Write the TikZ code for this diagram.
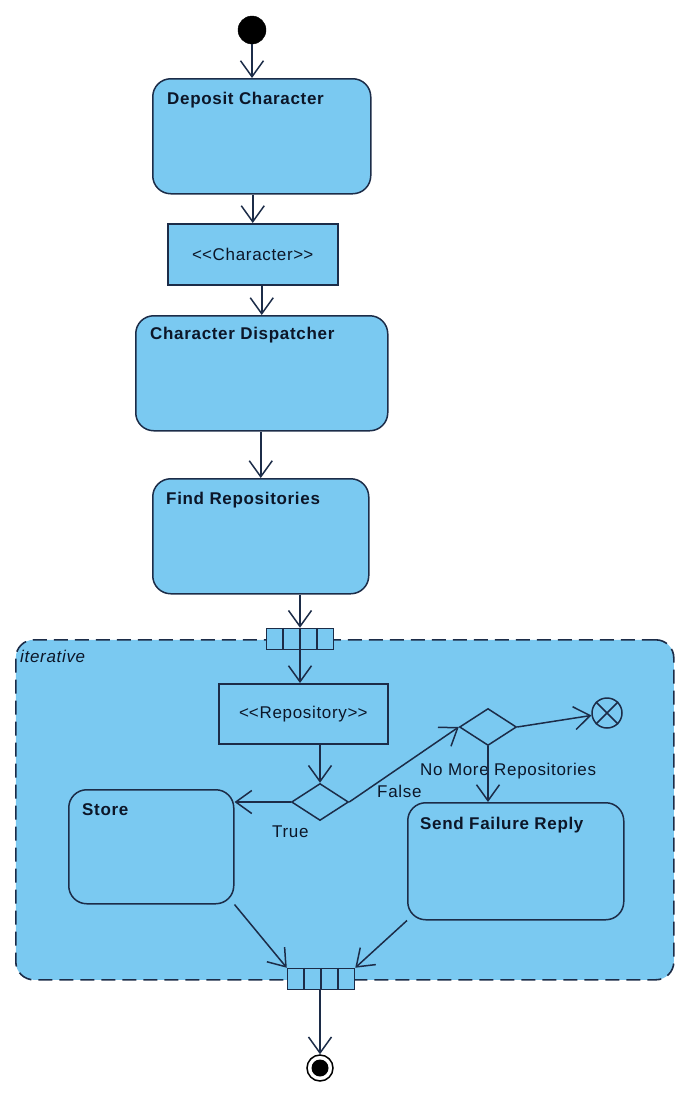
\documentclass[tikz,border=0pt]{standalone}
\usepackage{fontspec}
\setmainfont{Liberation Sans}[LetterSpace=4]
\usetikzlibrary{arrows.meta,shapes.geometric,calc}
\definecolor{fillblue}{RGB}{122,201,241}
\definecolor{edgecol}{RGB}{28,44,72}
\definecolor{ink}{RGB}{12,22,40}
\newcommand\VPopen{<\kern0pt<}
\newcommand\VPclose{>\kern0pt>}
\begin{document}
\begin{tikzpicture}[x=1pt,y=-1pt,
  every node/.style={font=\fontsize{17}{20}\selectfont, text=ink},
  action/.style={draw=edgecol, fill=fillblue, line width=1.5pt, rounded corners=18pt,
    inner sep=0pt, anchor=north west},
  objbox/.style={draw=edgecol, fill=fillblue, line width=1.5pt, inner sep=0pt, anchor=north west},
  region/.style={draw=edgecol, fill=fillblue, line width=1.6pt, rounded corners=18pt,
    dash pattern=on 14pt off 7pt, inner sep=0pt, anchor=north west},
  expnode/.style={draw=edgecol, fill=fillblue, line width=1.5pt, inner sep=0pt,
    minimum width=67pt, minimum height=21pt},
  decision/.style={diamond, draw=edgecol, fill=fillblue, line width=1.5pt, inner sep=0pt,
    minimum width=57pt, minimum height=37pt},
  atitle/.style={anchor=base west, inner sep=0pt, font=\fontsize{17}{20}\selectfont\bfseries},
  flabel/.style={anchor=base west, inner sep=0pt},
  flow/.style={draw=edgecol, line width=1.5pt, -{Straight Barb[length=16pt,width=23pt,line width=1.5pt]}},
]
\useasboundingbox (0,0) rectangle (677,1095);

% initial node
\node[circle, fill=black, draw=black, minimum size=28pt, inner sep=0pt] (init) at (252,30) {};

% actions
\node[action, minimum width=218pt, minimum height=115pt] (dep) at (152,78) {};
\node[atitle] (depT) at (167,104) {Deposit Character};

\node[objbox, minimum width=170pt, minimum height=61pt] (charobj) at (167,223) {\VPopen Character\VPclose};

\node[action, minimum width=252pt, minimum height=115pt] (disp) at (135,315) {};
\node[atitle] (dispT) at (150,339) {Character Dispatcher};

\node[action, minimum width=216pt, minimum height=115pt] (find) at (152,478) {};
\node[atitle] (findT) at (166,504) {Find Repositories};

% expansion region
\node[region, minimum width=658pt, minimum height=340pt] (reg) at (15,639) {};
\node[flabel, font=\fontsize{17}{20}\selectfont\itshape] (iterT) at (20,662) {iterative};

\node[expnode] (exp1) at (300,639) {};
\foreach \i in {1,2,3}
  \draw[edgecol, line width=1.5pt] ($(exp1.north west)!\i/4!(exp1.north east)$) -- ($(exp1.south west)!\i/4!(exp1.south east)$);

\node[objbox, minimum width=169pt, minimum height=60pt] (repo) at (218,683) {\VPopen Repository\VPclose};

\node[decision] (d1) at (320,802) {};
\node[decision] (d2) at (488,727) {};

\node[circle, draw=edgecol, fill=fillblue, line width=1.5pt, minimum size=30pt, inner sep=0pt] (ff) at (607,713) {};
\draw[edgecol, line width=1.5pt] (ff.north west) -- (ff.south east) (ff.north east) -- (ff.south west);

\node[action, minimum width=165pt, minimum height=114pt] (store) at (68,789) {};
\node[atitle] (storeT) at (82,815) {Store};

\node[action, minimum width=216pt, minimum height=117pt] (sfr) at (407,802) {};
\node[atitle] (sfrT) at (420,829) {Send Failure Reply};

\node[expnode] (exp2) at (321,979) {};
\foreach \i in {1,2,3}
  \draw[edgecol, line width=1.5pt] ($(exp2.north west)!\i/4!(exp2.north east)$) -- ($(exp2.south west)!\i/4!(exp2.south east)$);

% final node
\node[circle, draw=black, fill=white, line width=1.5pt, minimum size=26pt, inner sep=0pt] (final) at (320,1068) {};
\fill[black] (final.center) circle (8.5pt);

% labels
\node[flabel] (trueT) at (272,837) {True};
\node[flabel] (falseT) at (377,797) {False};
\node[flabel] (nomoreT) at (420,775) {No More Repositories};

% connectors
\draw[flow] (init.south) -- (init.south |- dep.north);
\draw[flow] (dep.south -| charobj.north) -- (charobj.north);
\draw[flow] (charobj.south -| disp.north) -- (disp.north);
\draw[flow] (disp.south -| find.north) -- (find.north);
\draw[flow] (find.south -| exp1.north) -- (exp1.north);
\draw[flow] (exp1.south) -- (exp1.south |- repo.north);
\draw[flow] (repo.south -| d1.north) -- (d1.north);
\draw[flow] (d1.west) -- (store.east |- d1.west);
\draw[flow] (d1.east) -- (d2.west);
\draw[flow] (d2.east) -- (ff);
\draw[flow] (d2.south) -- (d2.south |- sfr.north);
\draw[flow] (store.south east) -- (exp2.north west);
\draw[flow] (sfr.south west) -- (exp2.north east);
\draw[flow] (exp2.south -| final.north) -- (final.north);
\end{tikzpicture}
\end{document}
